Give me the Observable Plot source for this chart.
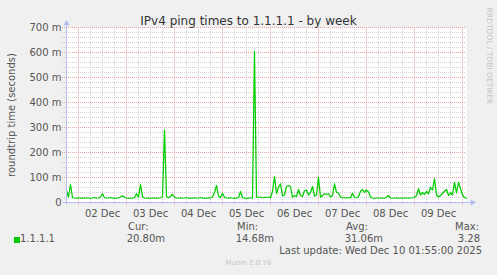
<!DOCTYPE html>
<html>
<head>
<meta charset="utf-8">
<script src="https://cdn.jsdelivr.net/npm/d3@7"></script>
<script src="https://cdn.jsdelivr.net/npm/@observablehq/plot@0.6"></script>
<style>
  html, body { margin: 0; padding: 0; background: #F0F0F0; }
  #wrap { position: relative; width: 497px; height: 275px; background: #F0F0F0; overflow: hidden;
          font-family: "DejaVu Sans", sans-serif; color: #555; }
  #wrap svg { position: absolute; left: 0; top: 0; }
  .t { position: absolute; white-space: nowrap; font-size: 10px; line-height: 1; }
</style>
</head>
<body>
<div id="wrap"></div>
<script>
// ---- data (hourly averages, milliseconds) ----
const seriesName = "1.1.1.1";
const startTime = "2025-12-01T18:00:00Z";
const stepHours = 1;
const ping = [
  48,22,72,19,18,17,19,17,18,17,19,18,17,18,20,17,18,22,35,19,
  17,18,20,17,18,17,19,22,27,21,18,17,18,17,20,35,21,72,24,18,
  17,18,17,19,17,18,17,19,22,290,24,19,24,33,22,18,17,19,17,18,
  20,17,18,17,19,17,18,20,17,18,17,19,18,22,40,68,26,20,37,21,
  18,17,19,17,18,17,20,44,20,17,18,17,19,18,605,22,20,22,19,21,
  20,22,19,45,104,36,61,75,26,30,64,68,64,21,28,24,52,28,24,48,
  50,30,40,64,26,30,101,21,28,35,32,35,22,28,75,40,38,22,19,20,
  18,20,19,37,20,19,22,45,52,40,50,42,22,18,17,18,19,17,18,17,
  21,28,18,17,18,19,17,18,17,19,18,17,18,19,20,28,55,30,40,32,
  45,35,61,50,95,30,22,28,37,45,52,28,40,30,81,38,81,55,30,20,17
];
const yMajor = [0, 100, 200, 300, 400, 500, 600, 700];
const yMinor = d3.range(0, 701, 20);
const dayTicks = ["2025-12-02","2025-12-03","2025-12-04","2025-12-05","2025-12-06","2025-12-07","2025-12-08","2025-12-09","2025-12-10"];
const dayLabels = ["02 Dec","03 Dec","04 Dec","05 Dec","06 Dec","07 Dec","08 Dec","09 Dec"];
const title = "IPv4 ping times to 1.1.1.1 - by week";
const yLabel = "roundtrip time (seconds)";
const legendHeads = ["Cur:", "Min:", "Avg:", "Max:"];
const legendVals = ["20.80m", "14.68m", "31.06m", "3.28"];
const lastUpdate = "Last update: Wed Dec 10 01:55:00 2025";
const footer = "Munin 2.0.76";
const sideText = "RRDTOOL / TOBI OETIKER";

// ---- build ----
const t0 = new Date(startTime).getTime();
const H = 3600e3;
const data = ping.map((v, i) => ({ t: new Date(t0 + i * stepHours * H), v }));
const tEnd = new Date(t0 + (ping.length - 1) * stepHours * H);
const midnights = dayTicks.map(d => new Date(d + "T00:00:00Z"));
const noons = dayLabels.map((_, i) => new Date(midnights[i].getTime() + 12 * H));
const sixHours = d3.utcHour.every(6).range(new Date(t0), tEnd).filter(d => d.getUTCHours() !== 0);
const xLeft = new Date(t0 - 2 * H);
const majorC = "#eaa0a0", minorC = "#d2d2d2", axisC = "#b4bcf0";

const plot = Plot.plot({
  width: 497, height: 275,
  marginLeft: 66, marginRight: 31, marginTop: 27, marginBottom: 73,
  style: { background: "transparent", fontFamily: "DejaVu Sans, sans-serif", fontSize: "10px", color: "#555" },
  x: { type: "utc", domain: [new Date(t0), tEnd] },
  y: { domain: [0, 700] },
  marks: [
    Plot.frame({ fill: "white", stroke: null }),
    Plot.ruleY(yMinor.filter(d => d % 100 !== 0), { x1: xLeft, x2: tEnd, stroke: minorC, strokeDasharray: "1,1" }),
    Plot.ruleX(sixHours, { y1: -8, y2: 700, stroke: minorC, strokeDasharray: "1,1" }),
    Plot.ruleY(yMajor.filter(d => d > 0), { x1: xLeft, x2: tEnd, stroke: majorC, strokeDasharray: "1,1" }),
    Plot.ruleX(midnights, { y1: -10, y2: 700, stroke: majorC, strokeDasharray: "1,1" }),
    Plot.axisY(yMajor, { tickSize: 0, tickPadding: 5, tickFormat: d => d === 0 ? "0" : d + " m", fill: "#555", fontSize: 10, label: null }),
    Plot.axisX(noons, { tickSize: 0, tickPadding: 7, tickFormat: (d, i) => dayLabels[i], fill: "#555", fontSize: 10, label: null }),
    Plot.line(data, { x: "t", y: "v", stroke: "#00cc00", strokeWidth: 1.25 }),
    Plot.ruleY([0], { x1: new Date(t0 - 1.5 * H), x2: new Date(tEnd.getTime() + 2.5 * H), stroke: axisC }),
    Plot.ruleX([new Date(t0)], { y1: -10, y2: 715, stroke: axisC }),
    Plot.dot([{ t: new Date(t0), v: 716 }], { x: "t", y: "v", symbol: "triangle", r: 2.3, fill: axisC, stroke: null }),
    Plot.dot([{ t: new Date(tEnd.getTime() + 3 * H), v: 0 }], { x: "t", y: "v", symbol: "triangle", r: 2.3, rotate: 90, fill: axisC, stroke: null })
  ]
});

const wrap = document.getElementById("wrap");
wrap.appendChild(plot);

function addText(txt, css) {
  const d = document.createElement("div");
  d.className = "t";
  d.textContent = txt;
  Object.assign(d.style, css);
  wrap.appendChild(d);
  return d;
}
addText(title, { left: "0px", width: "497px", textAlign: "center", top: "15px", fontSize: "12px", color: "#333" });
addText(yLabel, { left: "12px", top: "115px", fontSize: "10px", color: "#555", transform: "translate(-50%,-50%) rotate(-90deg)" });
addText(sideText, { left: "489px", top: "56px", fontSize: "7.5px", color: "#c4c4c4", transform: "translate(-50%,-50%) rotate(90deg)" });

// legend
const sw = document.createElement("div");
Object.assign(sw.style, { position: "absolute", left: "14px", top: "237px", width: "6px", height: "6px", background: "#00cc00" });
wrap.appendChild(sw);
addText(seriesName, { left: "20px", top: "234px", color: "#555" });
const headX = [128, 237, 346, 455];
legendHeads.forEach((h, i) => addText(h, { left: headX[i] + "px", top: "222px" }));
const valRight = [165, 274, 383, 480];
legendVals.forEach((v, i) => addText(v, { left: (valRight[i] - 60) + "px", width: "60px", textAlign: "right", top: "234px" }));
addText(lastUpdate, { left: "200px", width: "282px", textAlign: "right", top: "246px" });
addText(footer, { left: "0px", width: "497px", textAlign: "center", top: "260px", fontSize: "7px", color: "#c4c4c4" });
</script>
</body>
</html>
